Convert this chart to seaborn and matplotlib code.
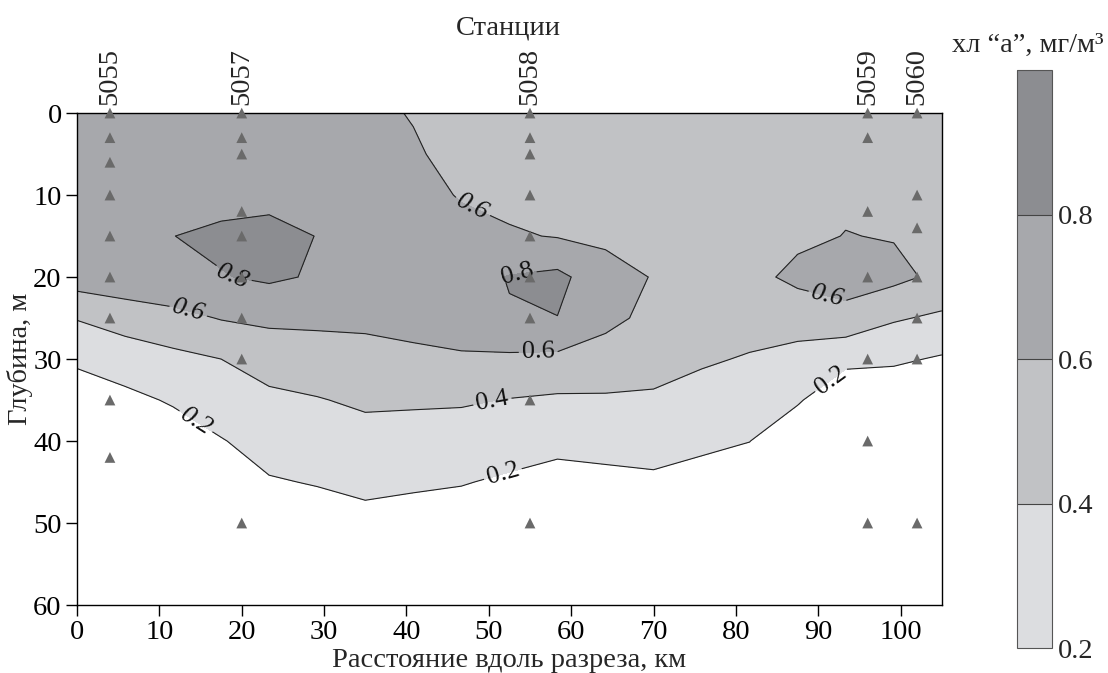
import numpy as np
import pandas as pd
import matplotlib
matplotlib.use("Agg")
import matplotlib.pyplot as plt
import seaborn as sns

# ---------------- data ----------------
# grid columns (distance along section, km) and rows (depth, m)
dist_km = [0, 5.83, 11.67, 17.5, 23.33, 29.17, 35, 40.83, 46.67, 52.5,
           58.33, 64.17, 70, 75.83, 81.67, 87.5, 93.33, 99.17, 105]
depth_m = [0, 5, 10, 15, 20, 25, 30, 35, 40, 45, 50, 60]

# chlorophyll "a" (mg/m3) profiles, one list per distance column, values at depth_m
chl_profiles = [
    [0.70, 0.71, 0.72, 0.72, 0.70, 0.41, 0.23, 0.10, 0.08, 0.06, 0.05, 0.04],
    [0.71, 0.72, 0.74, 0.76, 0.74, 0.48, 0.30, 0.15, 0.10, 0.07, 0.05, 0.04],
    [0.72, 0.73, 0.75, 0.798, 0.76, 0.54, 0.35, 0.22, 0.10, 0.07, 0.05, 0.04],
    [0.72, 0.72, 0.73, 0.84, 0.79, 0.61, 0.40, 0.30, 0.19, 0.10, 0.06, 0.04],
    [0.72, 0.72, 0.735, 0.87, 0.83, 0.64, 0.48, 0.36, 0.27, 0.186, 0.15, 0.10],
    [0.72, 0.72, 0.74, 0.795, 0.78, 0.64, 0.51, 0.39, 0.30, 0.21, 0.12, 0.08],
    [0.64, 0.66, 0.70, 0.74, 0.74, 0.64, 0.535, 0.43, 0.33, 0.24, 0.15, 0.08],
    [0.59, 0.62, 0.66, 0.70, 0.72, 0.66, 0.56, 0.425, 0.32, 0.225, 0.13, 0.08],
    [0.53, 0.545, 0.588, 0.655, 0.72, 0.68, 0.58, 0.42, 0.31, 0.21, 0.11, 0.07],
    [0.52, 0.53, 0.55, 0.62, 0.81, 0.785, 0.565, 0.393, 0.284, 0.173, 0.11, 0.07],
    [0.50, 0.51, 0.53, 0.59, 0.848, 0.797, 0.557, 0.371, 0.252, 0.134, 0.09, 0.06],
    [0.50, 0.50, 0.52, 0.56, 0.68, 0.63, 0.55, 0.37, 0.26, 0.155, 0.10, 0.06],
    [0.50, 0.50, 0.52, 0.55, 0.59, 0.57, 0.49, 0.367, 0.27, 0.17, 0.10, 0.06],
    [0.50, 0.50, 0.51, 0.53, 0.54, 0.52, 0.423, 0.328, 0.234, 0.14, 0.09, 0.06],
    [0.50, 0.50, 0.51, 0.53, 0.54, 0.477, 0.385, 0.294, 0.202, 0.12, 0.08, 0.05],
    [0.50, 0.50, 0.52, 0.56, 0.65, 0.47, 0.347, 0.216, 0.09, 0.06, 0.05, 0.04],
    [0.50, 0.51, 0.57, 0.605, 0.68, 0.54, 0.24, 0.08, 0.06, 0.05, 0.04, 0.04],
    [0.50, 0.51, 0.55, 0.59, 0.65, 0.42, 0.23, 0.06, 0.05, 0.04, 0.04, 0.04],
    [0.50, 0.51, 0.53, 0.55, 0.554, 0.367, 0.181, 0.06, 0.05, 0.04, 0.04, 0.04],
]

fill_levels = [0.2, 0.4, 0.6, 0.8, 1.0]
line_levels = [0.2, 0.4, 0.6, 0.8]
cbar_ticks = [0.2, 0.4, 0.6, 0.8]

station_names = ["5055", "5057", "5058", "5059", "5060"]
station_km = [4, 20, 55, 96, 102]
sample_depths = [
    [0, 3, 6, 10, 15, 20, 25, 35, 42],
    [0, 3, 5, 12, 15, 20, 25, 30, 50],
    [0, 3, 5, 10, 15, 20, 25, 35, 50],
    [0, 3, 12, 20, 30, 40, 50],
    [0, 10, 14, 20, 25, 30, 50],
]

x_ticks = [0, 10, 20, 30, 40, 50, 60, 70, 80, 90, 100]
y_ticks = [0, 10, 20, 30, 40, 50, 60]

# ---------------- style ----------------
sns.set_style("white")
plt.rcParams["font.family"] = ["Liberation Serif", "DejaVu Serif"]
plt.rcParams["axes.linewidth"] = 1.0

fill_colors = ["#dcdde0", "#c1c2c5", "#a7a8ac", "#8c8d91"]
FS = 20.5

fig = plt.figure(figsize=(11.08, 6.73), dpi=100)
ax = fig.add_axes([0.0695, 0.101, 0.7805, 0.731])

X, Y = np.meshgrid(dist_km, depth_m)
Z = np.array(chl_profiles).T

cf = ax.contourf(X, Y, Z, levels=fill_levels, colors=fill_colors)
cs = ax.contour(X, Y, Z, levels=line_levels, colors="#222222", linewidths=0.8)

label_spots = [(13.5, 24.2), (19.0, 19.8), (48.0, 11.5), (53.5, 20.0),
               (56.0, 29.2), (91.0, 22.8), (50.5, 35.5), (14.5, 37.5),
               (51.7, 44.0), (91.5, 32.5)]
italic_flags = [True, True, True, False, False, True, False, True, False, False]
ax.set_xlim(0, 105)
ax.set_ylim(60, 0)
clabels = ax.clabel(cs, fmt="%.1f", fontsize=19, inline=True, inline_spacing=3,
                    manual=label_spots)
for t, it in zip(clabels, italic_flags):
    t.set_color("#111111")
    if it:
        t.set_style("italic")

# sample points (seaborn)
rows = []
for name, km, deps in zip(station_names, station_km, sample_depths):
    for d in deps:
        rows.append({"station": name, "km": km, "depth": d})
df = pd.DataFrame(rows)
sns.scatterplot(data=df, x="km", y="depth", marker="^", color="#6a6a6a",
                s=60, edgecolor="none", linewidth=0, ax=ax, legend=False,
                clip_on=False, zorder=6)

ax.set_xlim(0, 105)
ax.set_ylim(60, 0)
ax.set_xticks(x_ticks)
ax.set_yticks(y_ticks)
ax.tick_params(axis="both", which="major", direction="out", length=8, width=1,
               labelsize=FS, bottom=True, left=True, top=False, right=False,
               colors="black", pad=3)
for sp in ax.spines.values():
    sp.set_visible(True)
    sp.set_color("black")
    sp.set_linewidth(1.0)
ax.set_xlabel("Расстояние вдоль разреза, км", fontsize=FS, labelpad=2)
ax.set_ylabel("Глубина, м", fontsize=FS, labelpad=0)

for name, km in zip(station_names, station_km):
    ax.annotate(name, xy=(km, 0), xycoords="data", xytext=(0, 6),
                textcoords="offset points", rotation=90, ha="center",
                va="bottom", fontsize=FS, annotation_clip=False)

fig.text(0.4585, 0.958, "Станции", ha="center", va="center", fontsize=FS)

# colorbar
cax = fig.add_axes([0.918, 0.037, 0.0316, 0.859])
cb = fig.colorbar(cf, cax=cax, ticks=cbar_ticks, drawedges=True)
cb.outline.set_edgecolor("#555555")
cb.outline.set_linewidth(0.8)
cb.dividers.set_color("#444444")
cb.dividers.set_linewidth(0.8)
cb.ax.tick_params(length=0, labelsize=FS, pad=4)
cb.ax.set_yticklabels(["0.2", "0.4", "0.6", "0.8"])
fig.text(0.928, 0.933, "хл “а”, мг/м³", ha="center", va="center", fontsize=FS)

fig.savefig("out.png", dpi=100)
